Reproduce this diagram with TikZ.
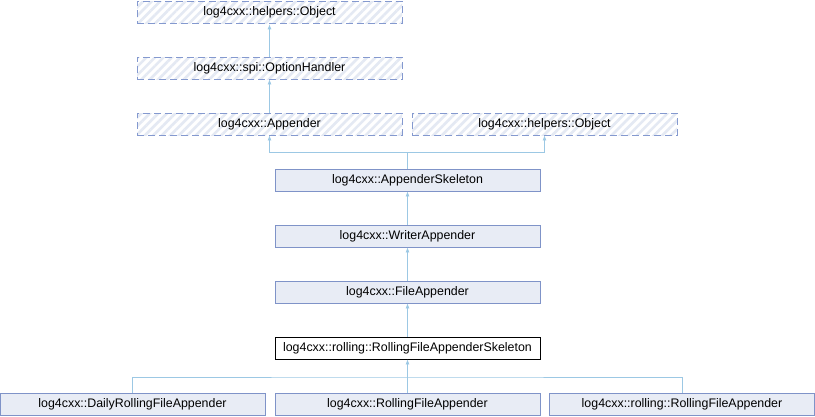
\documentclass[tikz,border=0pt]{standalone}
\usepackage{fontspec}
\setmainfont{Liberation Sans}
\usetikzlibrary{patterns.meta,arrows.meta}
\definecolor{nodefill}{HTML}{E8ECF5}
\definecolor{nodeline}{HTML}{7F93C8}
\definecolor{dashline}{HTML}{8499CF}
\definecolor{edgecol}{HTML}{9CC8E4}
\definecolor{hatchcol}{HTML}{E4E9F3}
\tikzset{
  x=1pt,y=-1pt,
  cls/.style={draw=nodeline,fill=nodefill,line width=0.8pt,minimum width=265pt,minimum height=22pt,inner sep=0pt,font=\fontsize{12.4}{14}\selectfont},
  ext/.style={draw=dashline,line width=0.8pt,minimum width=265pt,minimum height=22pt,inner sep=0pt,font=\fontsize{12.4}{14}\selectfont,
    dash pattern=on 7pt off 4pt,preaction={fill=white},
    pattern={Lines[angle=45,distance=6pt,line width=2.6pt]},pattern color=hatchcol},
  cur/.style={cls,draw=black,fill=white},
  inh/.style={draw=edgecol,line width=0.8pt,-{Latex[length=5pt,width=4pt]}},
  lnk/.style={draw=edgecol,line width=0.8pt}
}
\begin{document}
\begin{tikzpicture}
\useasboundingbox (0,0) rectangle (815,416);
\node[ext] (obj) at (269.5,12) {log4cxx::helpers::Object};
\node[ext] (opt) at (269.5,68) {log4cxx::spi::OptionHandler};
\node[ext] (app) at (269.5,124) {log4cxx::Appender};
\node[ext] (obj2) at (544.5,124) {log4cxx::helpers::Object};
\node[cls] (skel) at (407.5,180) {log4cxx::AppenderSkeleton};
\node[cls] (wr) at (407.5,236) {log4cxx::WriterAppender};
\node[cls] (fa) at (407.5,292) {log4cxx::FileAppender};
\node[cur] (rfas) at (407.5,348) {log4cxx::rolling::RollingFileAppenderSkeleton};
\node[cls] (daily) at (132.5,404) {log4cxx::DailyRollingFileAppender};
\node[cls] (rfa) at (407.5,404) {log4cxx::RollingFileAppender};
\node[cls] (rrfa) at (682,404) {log4cxx::rolling::RollingFileAppender};

\draw[inh] (opt.north) -- (obj.south);
\draw[inh] (app.north) -- (opt.south);

\coordinate (j1) at (407.5,152);
\draw[lnk] (skel.north) -- (j1);
\draw[inh] (j1) -| (app.south);
\draw[inh] (j1) -| (obj2.south);

\draw[inh] (wr.north) -- (skel.south);
\draw[inh] (fa.north) -- (wr.south);
\draw[inh] (rfas.north) -- (fa.south);

\coordinate (j2) at (407.5,377);
\draw[inh] (j2) -- (rfas.south);
\draw[lnk] (rfa.north) -- (j2);
\draw[lnk] (daily.north) |- (j2) -| (rrfa.north);
\end{tikzpicture}
\end{document}
